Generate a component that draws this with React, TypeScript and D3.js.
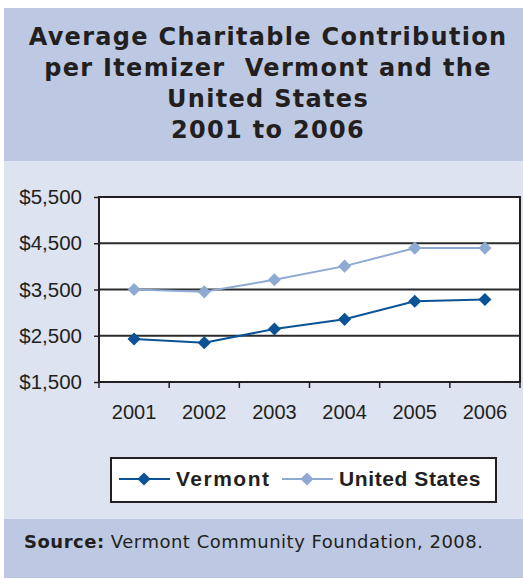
import React from 'react';
import * as d3 from 'd3';

const years = ['2001', '2002', '2003', '2004', '2005', '2006'];
const vermont = [2430, 2350, 2645, 2855, 3245, 3285];
const unitedStates = [3500, 3450, 3710, 4005, 4395, 4395];
const yTicks = [1500, 2500, 3500, 4500, 5500];
const seriesNames = ['Vermont', 'United States'];
const titleLines = [
  'Average Charitable Contribution',
  'per Itemizer  Vermont and the',
  'United States',
  '2001 to 2006',
];

const W = 523;
const H = 579;
const margin = {top: 197, right: 3, bottom: 197, left: 99};
const plotW = 520 - margin.left;
const plotH = 382 - margin.top;

const COL_VT = '#0b5395';
const COL_US = '#8eaad3';

const App = () => {
  const renderChart = (ref: SVGSVGElement) => {
    const svg = d3.select(ref);
    svg.selectAll('*').remove();

    // background panels
    svg.append('rect').attr('x', 4).attr('y', 8).attr('width', W - 4).attr('height', 153).attr('fill', '#bdc9e2');
    svg.append('rect').attr('x', 4).attr('y', 161).attr('width', W - 4).attr('height', 358).attr('fill', '#dde3f0');
    svg.append('rect').attr('x', 4).attr('y', 519).attr('width', W - 4).attr('height', 59).attr('fill', '#bdc9e2');

    // title
    svg.append('g')
      .selectAll('text')
      .data(titleLines)
      .enter().append('text')
      .attr('x', 268)
      .attr('y', (d, i) => 44.5 + i * 31.3)
      .attr('text-anchor', 'middle')
      .style('font-family', '"DejaVu Sans", Verdana, sans-serif')
      .style('font-weight', 'bold')
      .style('font-size', '24px')
      .style('letter-spacing', '1.3px')
      .style('white-space', 'pre')
      .attr('fill', '#231f20')
      .text(d => d);

    const x = d3.scaleBand().domain(years).range([0, plotW]);
    const y = d3.scaleLinear().domain([1500, 5500]).range([plotH, 0]);

    const g = svg.append('g').attr('transform', `translate(${margin.left}, ${margin.top})`);

    g.append('rect').attr('width', plotW).attr('height', plotH).attr('fill', '#fff');

    // gridlines
    g.selectAll('line.grid')
      .data(yTicks.slice(1, -1))
      .enter().append('line')
      .attr('x1', 0).attr('x2', plotW)
      .attr('y1', d => y(d)).attr('y2', d => y(d))
      .attr('stroke', '#2b2b2b')
      .attr('stroke-width', 2);

    g.append('rect').attr('width', plotW).attr('height', plotH)
      .attr('fill', 'none').attr('stroke', '#231f20').attr('stroke-width', 2);

    // y axis
    const yAxis = g.append('g').call(d3.axisLeft(y).tickValues(yTicks).tickSize(5).tickFormat(d => '$' + d3.format(',')(d as number)));
    yAxis.select('.domain').remove();
    yAxis.selectAll('line').attr('stroke', '#231f20').attr('stroke-width', 1.5);
    yAxis.selectAll('text')
      .attr('x', -17)
      .style('font-family', '"Liberation Sans", Arial, sans-serif')
      .style('font-size', '20.5px')
      .attr('fill', '#231f20');

    // x axis
    const xTickPos = d3.range(years.length + 1).map(i => i * x.step());
    g.selectAll('line.xtick')
      .data(xTickPos)
      .enter().append('line')
      .attr('x1', d => d).attr('x2', d => d)
      .attr('y1', plotH).attr('y2', plotH + 6)
      .attr('stroke', '#231f20').attr('stroke-width', 1.5);
    g.selectAll('text.xlab')
      .data(years)
      .enter().append('text')
      .attr('x', d => (x(d) as number) + x.bandwidth() / 2)
      .attr('y', plotH + 37)
      .attr('text-anchor', 'middle')
      .style('font-family', '"Liberation Sans", Arial, sans-serif')
      .style('font-size', '20px')
      .attr('fill', '#231f20')
      .text(d => d);

    const cx = (d: string) => (x(d) as number) + x.bandwidth() / 2;
    const line = d3.line<number>().x((d, i) => cx(years[i])).y(d => y(d));
    const diamond = d3.symbol().type(d3.symbolDiamond2).size(110);

    const addSeries = (values: number[], color: string) => {
      g.append('path').datum(values)
        .attr('d', line)
        .attr('fill', 'none')
        .attr('stroke', color)
        .attr('stroke-width', 2);
      g.selectAll(null)
        .data(values)
        .enter().append('path')
        .attr('d', diamond)
        .attr('transform', (d, i) => `translate(${cx(years[i])}, ${y(d)})`)
        .attr('fill', color);
    };
    addSeries(unitedStates, COL_US);
    addSeries(vermont, COL_VT);

    // legend
    const lg = svg.append('g').attr('transform', 'translate(111, 458)');
    lg.append('rect').attr('width', 385).attr('height', 44).attr('fill', '#fff')
      .attr('stroke', '#231f20').attr('stroke-width', 2);
    const items = [
      {name: seriesNames[0], color: COL_VT, x0: 8, tx: 65, ls: '1.5px'},
      {name: seriesNames[1], color: COL_US, x0: 171, tx: 228, ls: '0.6px'},
    ];
    items.forEach(it => {
      lg.append('line').attr('x1', it.x0).attr('x2', it.x0 + 51)
        .attr('y1', 21).attr('y2', 21).attr('stroke', it.color).attr('stroke-width', 2);
      lg.append('path').attr('d', diamond).attr('transform', `translate(${it.x0 + 25}, 21)`).attr('fill', it.color);
      lg.append('text').attr('x', it.tx).attr('y', 28)
        .style('font-family', '"Liberation Sans", Arial, sans-serif')
        .style('font-weight', 'bold')
        .style('font-size', '21px')
        .style('letter-spacing', it.ls)
        .attr('fill', '#231f20')
        .text(it.name);
    });

    // source
    const src = svg.append('text').attr('x', 24).attr('y', 548)
      .style('font-family', '"DejaVu Sans", Verdana, sans-serif')
      .style('font-size', '18px')
      .style('letter-spacing', '0.5px')
      .attr('fill', '#231f20');
    src.append('tspan').style('font-weight', 'bold').text('Source:');
    src.append('tspan').text(' Vermont Community Foundation, 2008.');
  };

  return (
    <svg
      width={W}
      height={H}
      style={{position: 'absolute', left: 0, top: 0, background: '#fff'}}
      ref={ref => { if (ref !== null) renderChart(ref); }}
    />
  );
};

export default App;
